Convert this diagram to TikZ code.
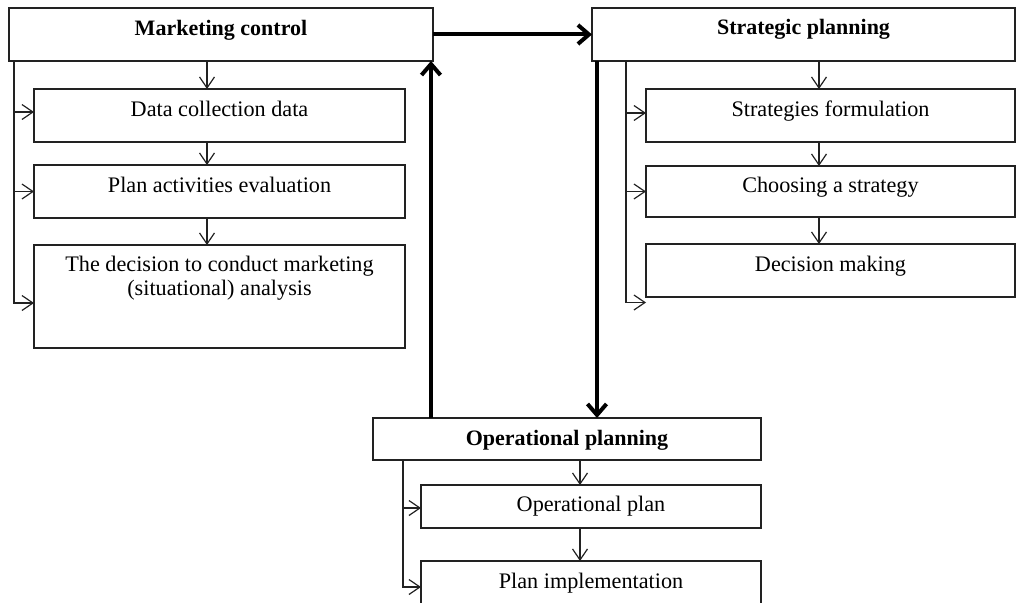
\documentclass[tikz,border=0pt]{standalone}
\usepackage{fontspec}
\setmainfont{Liberation Serif}
\usetikzlibrary{arrows.meta}
\definecolor{linecol}{HTML}{222222}
\begin{document}
\begin{tikzpicture}[x=1pt,y=-1pt,
  box/.style={draw=linecol, line width=1.3pt, rectangle, inner sep=0pt, outer sep=0pt, anchor=north west},
  lbl/.style={anchor=base, inner sep=0pt, font=\fontsize{22.2}{24}\selectfont},
  ttl/.style={anchor=base, inner sep=0pt, font=\fontsize{22}{24}\selectfont\bfseries},
  thinarr/.style={draw=linecol, line width=1.2pt, -{Straight Barb[length=11pt,width=15pt]}},
  thickarr/.style={draw=black, line width=4pt, -{Straight Barb[length=11pt,width=19pt]}},
]
\useasboundingbox (0,0) rectangle (1016,602);
\clip (0,0) rectangle (1016,602);

% ---- Marketing control column
\node[box, minimum width=424pt, minimum height=53pt] (mc) at (9,8) {};
\node[ttl] (mct) at ([yshift=-28pt]mc.north) {Marketing control};
\node[box, minimum width=371pt, minimum height=53pt] (b1) at (34,89) {};
\node[lbl] (b1t) at ([yshift=-27.5pt]b1.north) {Data collection data};
\node[box, minimum width=371pt, minimum height=53pt] (b2) at (34,165) {};
\node[lbl] (b2t) at ([yshift=-27.5pt]b2.north) {Plan activities evaluation};
\node[box, minimum width=371pt, minimum height=103pt] (b3) at (34,245) {};
\node[lbl] (b3t) at ([yshift=-26.7pt]b3.north) {The decision to conduct marketing};
\node[lbl] (b3u) at ([yshift=-50pt]b3.north) {(situational) analysis};

% ---- Strategic planning column
\node[box, minimum width=423pt, minimum height=53pt] (sp) at (592,8) {};
\node[ttl] (spt) at ([yshift=-27pt]sp.north) {Strategic planning};
\node[box, minimum width=369pt, minimum height=53pt] (s1) at (646,89) {};
\node[lbl] (s1t) at ([yshift=-27pt]s1.north) {Strategies formulation};
\node[box, minimum width=369pt, minimum height=51pt] (s2) at (646,166) {};
\node[lbl] (s2t) at ([yshift=-26pt]s2.north) {Choosing a strategy};
\node[box, minimum width=369pt, minimum height=53pt] (s3) at (646,244) {};
\node[lbl] (s3t) at ([yshift=-27pt]s3.north) {Decision making};

% ---- Operational planning column
\node[box, minimum width=388pt, minimum height=42pt] (op) at (373,418) {};
\node[ttl] (opt) at ([yshift=-27pt]op.north) {Operational planning};
\node[box, minimum width=340pt, minimum height=43pt] (o1) at (421,485) {};
\node[lbl] (o1t) at ([yshift=-26.5pt]o1.north) {Operational plan};
\node[box, minimum width=340pt, minimum height=60pt] (o2) at (421,561) {};
\node[lbl] (o2t) at ([yshift=-27pt]o2.north) {Plan implementation};

% ---- guide coordinates for the connectors
\coordinate (mx) at (207,0);
\coordinate (mb) at (14,0);
\coordinate (sx) at (819,0);
\coordinate (sb) at (626,0);
\coordinate (ox) at (580,0);
\coordinate (ob) at (403,0);
\coordinate (tx1) at (431,0);
\coordinate (tx2) at (597,0);

\coordinate (m1) at ([yshift=3.5pt]b1.west);
\coordinate (m2) at (b2.west);
\coordinate (m3) at ([yshift=-6.5pt]b3.west);
\coordinate (q1) at ([yshift=2.5pt]s1.west);
\coordinate (q2) at (s2.west);
\coordinate (q3) at ([yshift=-5.5pt]s3.south west);
\coordinate (p1) at ([yshift=-1.5pt]o1.west);
\coordinate (p2) at ([yshift=-26pt]o2.north west);

% ---- thin arrows: marketing control
\draw[thinarr] (mc.south -| mx) -- (b1.north -| mx);
\draw[thinarr] (b1.south -| mx) -- (b2.north -| mx);
\draw[thinarr] (b2.south -| mx) -- (b3.north -| mx);
\draw[thinarr] (mc.south -| mb) |- (m3);
\draw[thinarr] (mb |- m1) -- (m1);
\draw[thinarr] (mb |- m2) -- (m2);

% ---- thin arrows: strategic planning
\draw[thinarr] (sp.south -| sx) -- (s1.north -| sx);
\draw[thinarr] (s1.south -| sx) -- (s2.north -| sx);
\draw[thinarr] (s2.south -| sx) -- (s3.north -| sx);
\draw[thinarr] (sp.south -| sb) |- (q3);
\draw[thinarr] (sb |- q1) -- (q1);
\draw[thinarr] (sb |- q2) -- (q2);

% ---- thin arrows: operational planning
\draw[thinarr] (op.south -| ox) -- (o1.north -| ox);
\draw[thinarr] (o1.south -| ox) -- (o2.north -| ox);
\draw[thinarr] (op.south -| ob) |- (p2);
\draw[thinarr] (ob |- p1) -- (p1);

% ---- thick cycle arrows
\draw[thickarr] (mc.east) -- (sp.west);
\draw[thickarr] (sp.south -| tx2) -- (op.north -| tx2);
\draw[thickarr] (op.north -| tx1) -- (mc.south -| tx1);
\end{tikzpicture}
\end{document}
